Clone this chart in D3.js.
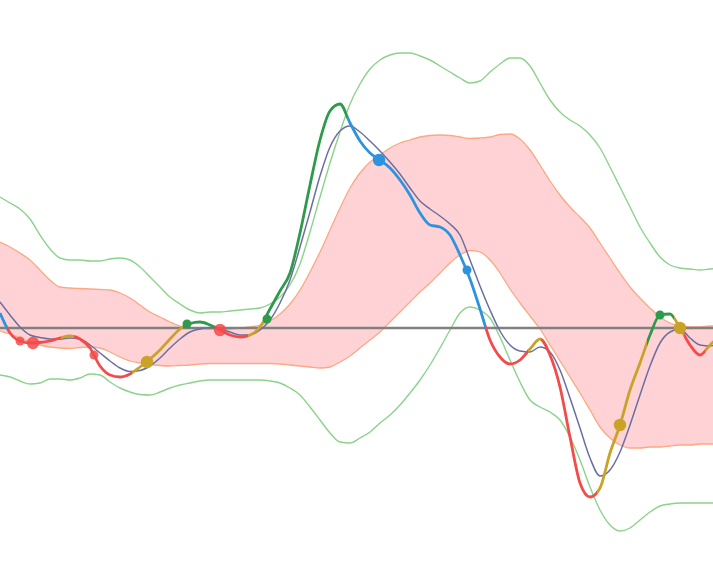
<!DOCTYPE html>
<html><head><meta charset="utf-8">
<script src="https://cdn.jsdelivr.net/npm/d3@7"></script>
<style>html,body{margin:0;padding:0;background:#fff;overflow:hidden}</style>
</head><body><svg id="c" width="713" height="574"></svg>
<script>
// sample index 0..72 (one sample per period)
const upperEnv = [1.31,1.25,1.19,1.09,0.93,0.79,0.70,0.68,0.68,0.67,0.67,0.69,0.70,0.68,0.61,0.51,0.41,0.31,0.24,0.18,
  0.15,0.16,0.16,0.17,0.18,0.19,0.20,0.24,0.31,0.43,0.64,0.96,1.31,1.65,1.96,2.24,2.44,2.59,2.68,2.73,
  2.75,2.75,2.72,2.68,2.62,2.56,2.50,2.45,2.47,2.56,2.64,2.70,2.70,2.62,2.45,2.28,2.16,2.08,2.02,1.93,
  1.80,1.61,1.41,1.21,1.01,0.85,0.71,0.63,0.60,0.59,0.58,0.59,0.60];
const lowerEnv = [-0.47,-0.49,-0.53,-0.56,-0.55,-0.51,-0.51,-0.52,-0.50,-0.46,-0.47,-0.54,-0.60,-0.64,-0.665,-0.67,-0.64,-0.60,-0.57,-0.55,
  -0.53,-0.52,-0.52,-0.52,-0.52,-0.52,-0.52,-0.53,-0.55,-0.60,-0.67,-0.79,-0.92,-1.05,-1.14,-1.15,-1.10,-1.04,-0.95,-0.87,
  -0.77,-0.65,-0.52,-0.37,-0.20,-0.02,0.15,0.21,0.18,0.10,-0.09,-0.32,-0.54,-0.72,-0.79,-0.84,-0.92,-1.09,-1.32,-1.59,
  -1.82,-1.97,-2.03,-2.00,-1.92,-1.84,-1.78,-1.76,-1.75,-1.75,-1.75,-1.75,-1.75];
const bandUpper = [0.86,0.81,0.75,0.68,0.58,0.48,0.41,0.40,0.395,0.39,0.385,0.38,0.35,0.30,0.23,0.16,0.11,0.06,0.02,0.00,
  -0.01,-0.01,-0.01,-0.01,0.00,0.01,0.03,0.07,0.14,0.24,0.38,0.56,0.76,0.98,1.20,1.40,1.55,1.66,1.73,1.80,
  1.85,1.88,1.91,1.925,1.93,1.925,1.91,1.895,1.90,1.91,1.935,1.94,1.89,1.78,1.63,1.47,1.33,1.21,1.11,1.00,
  0.85,0.70,0.55,0.41,0.30,0.20,0.11,0.05,0.02,0.01,0.01,0.02,0.02];
const bandLower = [-0.03,-0.06,-0.10,-0.14,-0.17,-0.19,-0.20,-0.205,-0.195,-0.19,-0.20,-0.24,-0.29,-0.33,-0.35,-0.365,-0.375,-0.38,-0.375,-0.37,
  -0.36,-0.355,-0.355,-0.355,-0.355,-0.355,-0.355,-0.355,-0.36,-0.37,-0.38,-0.39,-0.40,-0.39,-0.34,-0.28,-0.20,-0.12,-0.04,0.06,
  0.16,0.26,0.36,0.45,0.55,0.65,0.73,0.775,0.76,0.68,0.55,0.39,0.25,0.12,-0.01,-0.17,-0.33,-0.49,-0.65,-0.82,
  -0.99,-1.10,-1.17,-1.20,-1.20,-1.19,-1.19,-1.18,-1.17,-1.17,-1.16,-1.16,-1.16];
const signal = [0.26,0.13,0.01,-0.07,-0.095,-0.11,-0.11,-0.10,-0.11,-0.17,-0.25,-0.33,-0.40,-0.435,-0.425,-0.38,-0.30,-0.20,-0.11,-0.04,
  -0.01,0.005,-0.01,-0.04,-0.07,-0.07,-0.02,0.08,0.25,0.48,0.81,1.16,1.52,1.81,1.97,2.02,1.96,1.87,1.77,1.66,
  1.54,1.40,1.27,1.19,1.12,1.04,0.93,0.68,0.42,0.18,-0.03,-0.17,-0.23,-0.24,-0.19,-0.24,-0.42,-0.70,-1.00,-1.30,
  -1.48,-1.42,-1.24,-0.97,-0.67,-0.38,-0.15,-0.04,-0.01,-0.10,-0.17,-0.18,-0.15];
const mainLine = [0.15,-0.05,-0.13,-0.15,-0.145,-0.13,-0.10,-0.08,-0.11,-0.20,-0.38,-0.47,-0.49,-0.46,-0.39,-0.31,-0.22,-0.11,-0.01,0.045,
  0.06,0.03,-0.02,-0.07,-0.09,-0.07,0.01,0.19,0.37,0.55,0.95,1.43,1.88,2.17,2.24,2.05,1.87,1.75,1.68,1.60,
  1.48,1.33,1.15,1.03,1.01,0.93,0.73,0.49,0.19,-0.12,-0.29,-0.36,-0.32,-0.21,-0.11,-0.27,-0.59,-1.09,-1.55,-1.69,
  -1.60,-1.25,-0.97,-0.62,-0.35,-0.07,0.13,0.14,0.00,-0.17,-0.27,-0.17,-0.08];
// colour regimes of the main line (start/end in sample index)
const segStart = [0, 0.7, 6.1, 7.4, 13.2, 18.3, 21.6, 24.8, 26.4, 34.7, 48.6, 52.8, 54.1, 59.7, 64.7, 67.4, 68.4, 70.5];
const segEnd   = [0.7, 6.1, 7.4, 13.2, 18.3, 21.6, 24.8, 26.4, 34.7, 48.6, 52.8, 54.1, 59.7, 64.7, 67.4, 68.4, 70.5, 72.5];
const segKind  = ["blue","red","gold","red","gold","green","red","gold","green","blue","red","gold","red","gold","green","gold","red","gold"];
// event markers
const markT    = [2.0, 3.3, 9.4, 14.7, 18.7, 22.0, 26.7, 37.9, 46.7, 62.0, 66.0, 68.0];
const markV    = [-0.13, -0.15, -0.27, -0.34, 0.04, -0.02, 0.09, 1.68, 0.58, -0.97, 0.13, 0.00];
const markKind = ["red","red","red","gold","green","red","green","blue","blue","gold","green","gold"];
const markBig  = [false,true,false,true,false,true,false,true,false,true,false,true];

const palette = {red:"#f44a4a", gold:"#c9a227", green:"#2e9a4c", blue:"#2e93de"};
const W = 713, H = 574;
const svg = d3.select("#c");
const x = d3.scaleLinear().domain([0, 71.3]).range([0, W]);
const y = d3.scaleLinear().domain([-2.46, 3.28]).range([H, 0]);
const idx = d3.range(mainLine.length);

const curve = d3.curveMonotoneX;
const area = d3.area().x(i => x(i)).y0(i => y(bandLower[i])).y1(i => y(bandUpper[i])).curve(curve);
svg.append("path").attr("d", area(idx)).attr("fill", "#ffd3d5");
const mk = arr => d3.line().x(i => x(i)).y(i => y(arr[i])).curve(curve);
[bandUpper, bandLower].forEach(a => svg.append("path").attr("d", mk(a)(idx))
  .attr("fill", "none").attr("stroke", "#fca882").attr("stroke-width", 1.3));
[upperEnv, lowerEnv].forEach(a => svg.append("path").attr("d", mk(a)(idx))
  .attr("fill", "none").attr("stroke", "#8bd38c").attr("stroke-width", 1.4));
svg.append("line").attr("x1", 0).attr("x2", W).attr("y1", y(0)).attr("y2", y(0))
  .attr("stroke", "#808080").attr("stroke-width", 2.6);
svg.append("path").attr("d", mk(signal)(idx)).attr("fill", "none")
  .attr("stroke", "#6b6fa0").attr("stroke-width", 1.5);

const defs = svg.append("defs");
const mainPath = mk(mainLine)(idx);
segKind.forEach((k, j) => {
  const id = "seg" + j;
  defs.append("clipPath").attr("id", id).append("rect")
    .attr("x", x(segStart[j])).attr("width", x(segEnd[j]) - x(segStart[j]))
    .attr("y", 0).attr("height", H);
  svg.append("path").attr("d", mainPath).attr("clip-path", `url(#${id})`)
    .attr("fill", "none").attr("stroke", palette[k]).attr("stroke-width", 2.8)
    .attr("stroke-linejoin", "round");
});
svg.selectAll("circle.m").data(markT).join("circle").attr("class", "m")
  .attr("cx", (d, i) => x(d)).attr("cy", (d, i) => y(markV[i]))
  .attr("r", (d, i) => markBig[i] ? 6.2 : 4.5)
  .attr("fill", (d, i) => palette[markKind[i]])
  .attr("fill-opacity", (d, i) => markKind[i] === "red" ? 0.85 : 1);
</script></body></html>
